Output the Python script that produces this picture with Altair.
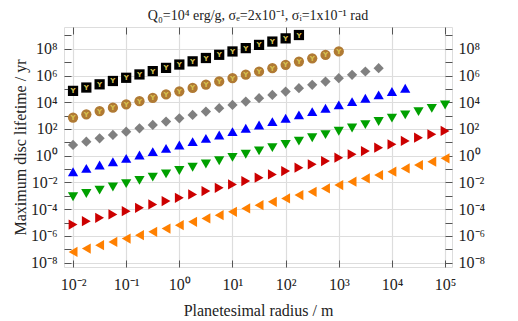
import altair as alt
import pandas as pd

# x positions: log10 of planetesimal radius (m)
XEXP = [-2.0, -1.75, -1.5, -1.25, -1.0, -0.75, -0.5, -0.25, 0.0, 0.25, 0.5, 0.75,
        1.0, 1.25, 1.5, 1.75, 2.0, 2.25, 2.5, 2.75, 3.0, 3.25, 3.5, 3.75,
        4.0, 4.25, 4.5, 4.75, 5.0]

# log10 of maximum disc lifetime (yr), one list per series
Y_BLACK = [4.85, 5.10, 5.34, 5.59, 5.83, 6.08, 6.33, 6.57, 6.82, 7.06, 7.31, 7.55,
           7.80, 8.05, 8.29, 8.54, 8.78, 9.03]
Y_BROWN = [2.85, 3.10, 3.34, 3.59, 3.84, 4.08, 4.33, 4.58, 4.82, 5.07, 5.32, 5.56,
           5.81, 6.06, 6.30, 6.55, 6.80, 7.04, 7.29, 7.54, 7.80]
Y_GRAY = [0.80, 1.05, 1.30, 1.55, 1.80, 2.05, 2.30, 2.55, 2.80, 3.05, 3.30, 3.55,
          3.80, 4.05, 4.30, 4.55, 4.80, 5.05, 5.30, 5.55, 5.80, 6.05, 6.30, 6.55]
Y_BLUE = [-1.20, -0.95, -0.70, -0.45, -0.20, 0.05, 0.30, 0.55, 0.80, 1.05, 1.30, 1.55,
          1.80, 2.05, 2.30, 2.55, 2.80, 3.05, 3.30, 3.55, 3.80, 4.05, 4.30, 4.55,
          4.80, 5.05]
Y_GREEN = [-3.07, -2.83, -2.58, -2.34, -2.09, -1.85, -1.60, -1.36, -1.11, -0.87, -0.62,
           -0.38, -0.13, 0.11, 0.36, 0.60, 0.85, 1.09, 1.34, 1.58, 1.83, 2.07, 2.32,
           2.56, 2.81, 3.05, 3.30, 3.54, 3.79]
Y_RED = [-5.15, -4.90, -4.65, -4.40, -4.15, -3.90, -3.65, -3.40, -3.15, -2.90, -2.65,
         -2.40, -2.15, -1.90, -1.65, -1.40, -1.15, -0.90, -0.65, -0.40, -0.15, 0.10,
         0.35, 0.60, 0.85, 1.10, 1.35, 1.60, 1.85]
Y_ORANGE = [-7.20, -6.95, -6.70, -6.45, -6.20, -5.95, -5.70, -5.45, -5.20, -4.95, -4.70,
            -4.45, -4.20, -3.95, -3.70, -3.45, -3.20, -2.95, -2.70, -2.45, -2.20, -1.95,
            -1.70, -1.45, -1.20, -0.95, -0.70, -0.45, -0.20]

SERIES = ["black", "brown", "gray", "blue", "green", "red", "orange"]
COLORS = ["#000000", "#b07a34", "#808080", "#0000ff", "#00a000", "#cc0000", "#ff8000"]
SHAPES = ["square", "circle", "diamond", "triangle-up", "triangle-down",
          "triangle-right", "triangle-left"]

X_TICK_EXP = [-2, -1, 0, 1, 2, 3, 4, 5]
Y_TICK_EXP = list(range(-8, 10))

rows = []
for name, ys in zip(SERIES, [Y_BLACK, Y_BROWN, Y_GRAY, Y_BLUE, Y_GREEN, Y_RED, Y_ORANGE]):
    for xe, ye in zip(XEXP, ys):
        rows.append({"series": name, "radius": 10 ** xe, "life": 10 ** ye})
df = pd.DataFrame(rows)

xscale = alt.Scale(type="log", domain=[10 ** -2.17, 10 ** 5.13], nice=False)
yscale = alt.Scale(type="log", domain=[10 ** -8.33, 10 ** 9.63], nice=False)

SUP = "['⁻⁸','⁻⁷','⁻⁶','⁻⁵','⁻⁴','⁻³','⁻²','⁻¹','⁰','¹','²','³','⁴','⁵','⁶','⁷','⁸','⁹']"
EXP = "round(log(datum.value)/LN10)"
x_label = f"'10' + {SUP}[{EXP}+8]"
y_label = f"({EXP} % 2 == 0) ? '10' + {SUP}[{EXP}+8] : ''"

FONT = "Liberation Serif"
TXT = "#222222"

x_bottom = alt.Axis(orient="bottom", values=[10 ** e for e in X_TICK_EXP], offset=-7,
                    tickSize=7, tickColor="#555555", domain=False, labelExpr=x_label,
                    labelFont=FONT, labelFontSize=16, labelColor=TXT, labelPadding=9,
                    grid=True, gridColor="#dddddd", gridWidth=1.2,
                    title="Planetesimal radius / m", titleFont=FONT, titleFontSize=16,
                    titleFontWeight="normal", titleColor=TXT, titlePadding=10)
x_top = alt.Axis(orient="top", values=[10 ** e for e in X_TICK_EXP], offset=-7,
                 tickSize=7, tickColor="#555555", domain=False, labels=False,
                 grid=False, title=None)
even = f"{EXP} % 2 == 0"
y_left = alt.Axis(orient="left", values=[10 ** e for e in Y_TICK_EXP], offset=-7,
                  tickSize=7, tickColor="#555555", domain=False, labelExpr=y_label,
                  labelFont=FONT, labelFontSize=16, labelColor=TXT, labelPadding=7,
                  grid=True, gridColor="#dddddd", gridWidth=1.2,
                  gridOpacity={"condition": {"test": even, "value": 1}, "value": 0},
                  title="Maximum disc lifetime / yr", titleFont=FONT, titleFontSize=16,
                  titleFontWeight="normal", titleColor=TXT, titlePadding=2)
y_right = alt.Axis(orient="right", values=[10 ** e for e in Y_TICK_EXP], offset=-7,
                   tickSize=7, tickColor="#555555", domain=False, labelExpr=y_label,
                   labelFont=FONT, labelFontSize=16, labelColor=TXT, labelPadding=6,
                   grid=False, title=None)

color = alt.Color("series:N", scale=alt.Scale(domain=SERIES, range=COLORS), legend=None)
shape = alt.Shape("series:N", scale=alt.Scale(domain=SERIES, range=SHAPES), legend=None)

points = alt.Chart(df).mark_point(filled=True, size=105, opacity=1).encode(
    x=alt.X("radius:Q", scale=xscale, axis=x_bottom),
    y=alt.Y("life:Q", scale=yscale, axis=y_left),
    color=color, shape=shape,
)

letters = alt.Chart(df).transform_filter(
    "datum.series == 'black' || datum.series == 'brown'"
).mark_text(text="Y", color="#d9c250", fontSize=7, fontWeight="bold",
            font="DejaVu Sans", baseline="middle", align="center", dy=0.5).encode(
    x=alt.X("radius:Q", scale=xscale, axis=None),
    y=alt.Y("life:Q", scale=yscale, axis=None),
)

ghost = alt.Chart(df).mark_point(opacity=0).encode(
    x=alt.X("radius:Q", scale=xscale, axis=x_top),
    y=alt.Y("life:Q", scale=yscale, axis=y_right),
)

chart = alt.layer(points, letters, ghost).resolve_axis(
    x="independent", y="independent"
).properties(
    width=388, height=240,
    autosize=alt.AutoSizeParams(type="none"),
    padding={"left": 56, "top": 19, "right": 58, "bottom": 54},
    title=alt.TitleParams(text="Q₀=10⁴ erg/g, σₑ=2x10⁻¹, σᵢ=1x10⁻¹ rad",
                          font=FONT, fontSize=14, fontWeight="normal", color=TXT,
                          anchor="middle", offset=4),
).configure_view(stroke="#444444", strokeWidth=1.3).configure(background="white")

chart.save("out.html", embed_options={"renderer": "svg", "actions": False})
